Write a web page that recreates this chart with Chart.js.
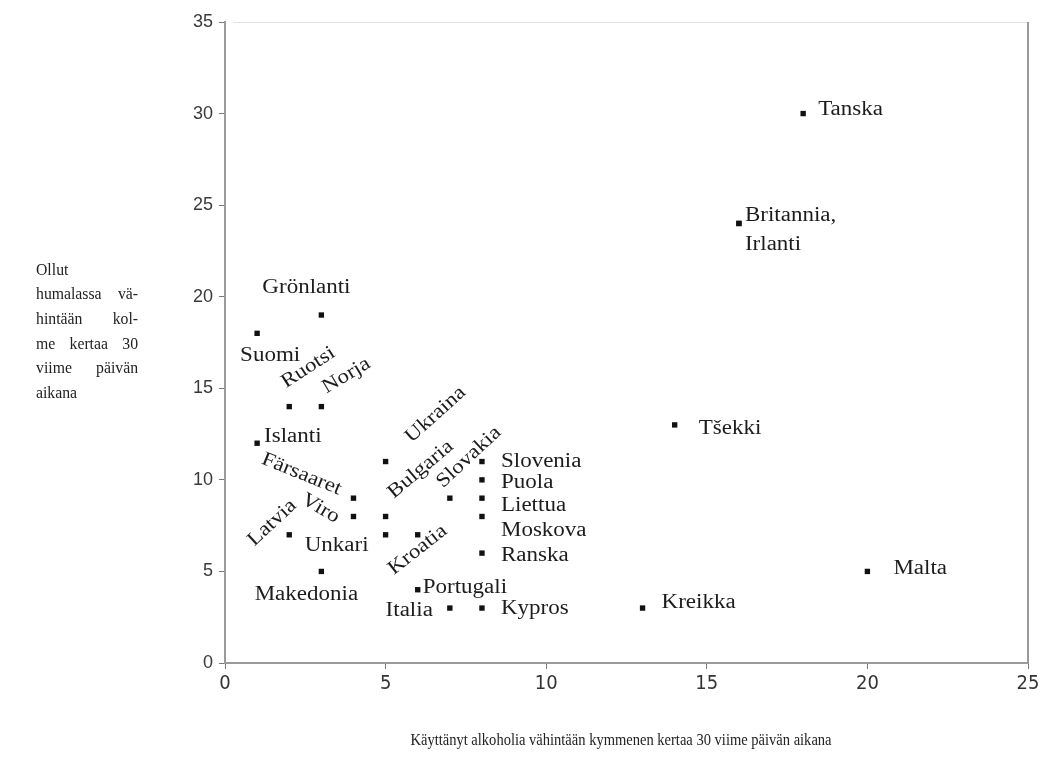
<!DOCTYPE html>
<html>
<head>
<meta charset="utf-8">
<script src="https://cdn.jsdelivr.net/npm/chart.js@4"></script>
<style>
  html, body { margin: 0; background: #fff; }
</style>
</head>
<body>
<canvas id="myChart" width="1044" height="764"></canvas>
<script>
// values
const countries = ['Tanska', 'Britannia,', 'Irlanti', 'Tšekki', 'Malta', 'Kreikka',
    'Grönlanti', 'Suomi', 'Ruotsi', 'Norja', 'Islanti', 'Färsaaret', 'Viro', 'Latvia',
    'Unkari', 'Makedonia', 'Ukraina', 'Bulgaria', 'Kroatia', 'Slovakia', 'Slovenia',
    'Puola', 'Liettua', 'Moskova', 'Ranska', 'Portugali', 'Italia', 'Kypros'];
const tenTimes = [18, 16, 16, 14, 20, 13, 3, 1, 2, 3, 1, 4, 4, 2, 5, 3, 5, 5, 6, 7, 8, 8, 8, 8, 8, 6, 7, 8];
const drunkThreeTimes = [30, 24, 24, 13, 5, 3, 19, 18, 14, 14, 12, 9, 8, 7, 7, 5, 11, 8, 7, 9, 11, 10, 9, 8, 6, 4, 3, 3];
const xTicks = [0, 5, 10, 15, 20, 25];
const yTicks = [0, 5, 10, 15, 20, 25, 30, 35];

const xTitle = 'Käyttänyt alkoholia vähintään kymmenen kertaa 30 viime päivän aikana';
const yTitleLines = ['Ollut', 'humalassa vä-', 'hintään kol-', 'me kertaa 30', 'viime päivän', 'aikana'];

// where each label sits relative to its point (px), and its rotation (deg)
const labelPlace = {
    'Tanska': { dx: 15, dy: -4 },
    'Britannia,': { dx: 6, dy: -8 },
    'Irlanti': { dx: 6, dy: 21 },
    'Tšekki': { dx: 24, dy: 4 },
    'Malta': { dx: 26, dy: -3 },
    'Kreikka': { dx: 19, dy: -5 },
    'Grönlanti': { dx: -59, dy: -27 },
    'Suomi': { dx: -17, dy: 22 },
    'Ruotsi': { dx: 19, dy: -39, align: 'center', angle: -33 },
    'Norja': { dx: 25, dy: -31, align: 'center', angle: -31 },
    'Islanti': { dx: 7, dy: -6 },
    'Färsaaret': { dx: -52, dy: -24, align: 'center', angle: 22 },
    'Viro': { dx: -33, dy: -8, align: 'center', angle: 30 },
    'Latvia': { dx: -17, dy: -12, align: 'center', angle: -43 },
    'Unkari': { dx: -17, dy: 11, align: 'right' },
    'Makedonia': { dx: -15, dy: 23, align: 'center' },
    'Ukraina': { dx: 50, dy: -47, align: 'center', angle: -42 },
    'Bulgaria': { dx: 35, dy: -47, align: 'center', angle: -40 },
    'Kroatia': { dx: 0, dy: 15, align: 'center', angle: -38 },
    'Slovakia': { dx: 19, dy: -41, align: 'center', angle: -43 },
    'Slovenia': { dx: 19, dy: 0 },
    'Puola': { dx: 19, dy: 3 },
    'Liettua': { dx: 19, dy: 8 },
    'Moskova': { dx: 19, dy: 14 },
    'Ranska': { dx: 19, dy: 3 },
    'Portugali': { dx: 5, dy: -2 },
    'Italia': { dx: -17, dy: 3, align: 'right' },
    'Kypros': { dx: 19, dy: 1 }
};

const serif = '"Liberation Serif", "DejaVu Serif", serif';

const decorations = {
    id: 'decorations',
    afterDatasetsDraw(chart) {
        const ctx = chart.ctx;
        const area = chart.chartArea;
        const xs = chart.scales.x, ys = chart.scales.y;
        ctx.save();
        // frame: top and right
        ctx.strokeStyle = '#e0e0e0';
        ctx.lineWidth = 1;
        ctx.beginPath();
        ctx.moveTo(area.left + 8, area.top + 0.5);
        ctx.lineTo(area.right, area.top + 0.5);
        ctx.stroke();
        ctx.strokeStyle = '#9a9a9a';
        ctx.lineWidth = 2;
        ctx.beginPath();
        ctx.moveTo(area.right, area.top);
        ctx.lineTo(area.right, area.bottom);
        ctx.stroke();

        // point labels
        ctx.fillStyle = '#1c1c1c';
        ctx.font = '20px ' + serif;
        ctx.textBaseline = 'middle';
        countries.forEach((name, i) => {
            const p = labelPlace[name] || { dx: 8, dy: 0 };
            const px = xs.getPixelForValue(tenTimes[i]);
            const py = ys.getPixelForValue(drunkThreeTimes[i]);
            ctx.save();
            ctx.translate(px + p.dx, py + p.dy);
            ctx.rotate((p.angle || 0) * Math.PI / 180);
            ctx.scale(1.15, 1);
            ctx.textAlign = p.align || 'left';
            ctx.fillText(name, 0, 0);
            ctx.restore();
        });

        // x title
        ctx.fillStyle = '#222';
        ctx.font = '17.5px ' + serif;
        ctx.save();
        ctx.translate(621, 740);
        ctx.scale(0.83, 1);
        ctx.textAlign = 'center';
        ctx.fillText(xTitle, 0, 0);
        ctx.restore();

        // y title, justified block
        const left = 36, width = 102, top = 270, step = 24.7, sx = 0.9;
        ctx.font = '17.5px ' + serif;
        ctx.textAlign = 'left';
        yTitleLines.forEach((line, k) => {
            const words = line.split(' ');
            const y = top + k * step;
            const justify = words.length > 1 && k !== yTitleLines.length - 1;
            const wsum = words.reduce((s, w) => s + ctx.measureText(w).width * sx, 0);
            const gap = justify ? (width - wsum) / (words.length - 1) : 0;
            let x = left;
            words.forEach(w => {
                ctx.save();
                ctx.translate(x, y);
                ctx.scale(sx, 1);
                ctx.fillText(w, 0, 0);
                ctx.restore();
                x += ctx.measureText(w).width * sx + gap;
            });
        });
        ctx.restore();
    }
};

new Chart(document.getElementById('myChart').getContext('2d'), {
    type: 'scatter',
    data: {
        datasets: [{
            label: 'Maat',
            data: countries.map((c, i) => ({ x: tenTimes[i], y: drunkThreeTimes[i] })),
            backgroundColor: '#111',
            borderColor: '#111',
            borderWidth: 0,
            pointStyle: 'rect',
            pointRadius: 3.8,
            pointHoverRadius: 3.8
        }]
    },
    options: {
        responsive: false,
        animation: false,
        layout: { padding: { left: 0, right: 16, top: 22, bottom: 0 } },
        plugins: {
            legend: { display: false },
            tooltip: { enabled: false }
        },
        scales: {
            x: {
                type: 'linear',
                min: 0,
                max: 25,
                afterBuildTicks: s => { s.ticks = xTicks.map(v => ({ value: v })); },
                afterFit: s => { s.height = 101; },
                ticks: {
                    color: '#333',
                    font: { family: '"Liberation Sans Narrow", "DejaVu Sans Condensed", "Liberation Sans", sans-serif', size: 20 },
                    padding: 3
                },
                grid: { display: true, drawOnChartArea: false, drawTicks: true, tickLength: 6, color: '#777' },
                border: { display: true, color: '#9a9a9a', width: 2 }
            },
            y: {
                type: 'linear',
                min: 0,
                max: 35,
                afterBuildTicks: s => { s.ticks = yTicks.map(v => ({ value: v })); },
                afterFit: s => { s.width = 225; },
                ticks: {
                    color: '#3a3a3a',
                    font: { family: '"Liberation Sans", Arial, sans-serif', size: 18 },
                    padding: 6
                },
                grid: { display: true, drawOnChartArea: false, drawTicks: true, tickLength: 6, color: '#777' },
                border: { display: true, color: '#9a9a9a', width: 2 }
            }
        }
    },
    plugins: [decorations]
});
</script>
</body>
</html>
